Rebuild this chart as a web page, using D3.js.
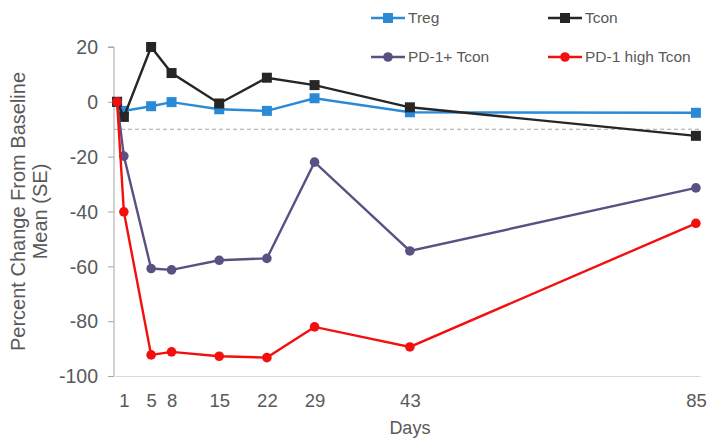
<!DOCTYPE html>
<html>
<head>
<meta charset="utf-8">
<script src="https://cdn.jsdelivr.net/npm/d3@7"></script>
<style>
  body { margin: 0; background: #fff; font-family: "Liberation Sans", Arial, sans-serif; }
  .axis text { fill: #595959; }
</style>
</head>
<body>
<div id="chart"></div>
<script>
// data
const days = [0, 1, 5, 8, 15, 22, 29, 43, 85];
const tickDays = [1, 5, 8, 15, 22, 29, 43, 85];
const yTicks = [20, 0, -20, -40, -60, -80, -100];

const treg = [0, -3.3, -1.6, -0.1, -2.7, -3.3, 1.3, -3.8, -4.0];
const tcon = [0, -5.5, 20, 10.5, -0.6, 8.8, 6.1, -2, -12.4];
const pd1Tcon = [0, -19.8, -60.8, -61.3, -57.8, -57.1, -22, -54.4, -31.4];
const pd1HighTcon = [0, -40.1, -92.3, -91.2, -92.8, -93.3, -82.1, -89.4, -44.3];

const refLine = -10;

const seriesList = [
    {name: "Treg", values: treg, color: "#2a8ad6", shape: "square"},
    {name: "Tcon", values: tcon, color: "#262626", shape: "square"},
    {name: "PD-1+ Tcon", values: pd1Tcon, color: "#5a5182", shape: "circle"},
    {name: "PD-1 high Tcon", values: pd1HighTcon, color: "#f40f0f", shape: "circle"}
];

const width = 710, height = 441;
const margin = {top: 47, right: 10, bottom: 65, left: 114};

const svg = d3.select("#chart").append("svg")
    .attr("width", width)
    .attr("height", height);

// scales
const x = d3.scaleLinear()
    .domain([-0.45, 85.6])
    .range([margin.left, width - margin.right]);

const y = d3.scaleLinear()
    .domain([-100, 20])
    .range([376, 47]);

// reference dashed line
svg.append("line")
    .attr("x1", x(-0.45))
    .attr("x2", x(85.6))
    .attr("y1", y(refLine))
    .attr("y2", y(refLine))
    .attr("stroke", "#a6a6a6")
    .attr("stroke-width", 1.2)
    .attr("stroke-dasharray", "4,3");

// y axis (plain hyphen for negatives, like the original)
const yAxisG = svg.append("g")
    .attr("class", "axis y-axis")
    .attr("transform", `translate(${margin.left},0)`)
    .call(d3.axisLeft(y).tickValues(yTicks).tickSize(6).tickPadding(10).tickFormat(d => String(d)));
yAxisG.selectAll("path, line").attr("stroke", "#a6a6a6");
yAxisG.select(".domain").attr("d", `M-6,${y(20)}H0V${y(-100)}`);
yAxisG.selectAll("text")
    .style("font-size", "19.5px")
    .style("font-family", "Liberation Sans, Arial, sans-serif")
    .attr("dy", "0.35em");

// x axis
const xAxisG = svg.append("g")
    .attr("class", "axis x-axis")
    .attr("transform", `translate(0,${y(-100)})`)
    .call(d3.axisBottom(x).tickValues(tickDays).tickSize(0).tickPadding(18).tickFormat(d => String(d)));
xAxisG.select(".domain").attr("stroke", "#d9d9d9");
xAxisG.selectAll("text")
    .style("font-size", "18.5px")
    .style("font-family", "Liberation Sans, Arial, sans-serif");

// axis titles
svg.append("text")
    .attr("x", x(43))
    .attr("y", 434)
    .attr("text-anchor", "middle")
    .attr("fill", "#595959")
    .style("font-size", "18px")
    .text("Days");

const yTitle = svg.append("text")
    .attr("transform", `translate(25,${(y(20) + y(-100)) / 2}) rotate(-90)`)
    .attr("text-anchor", "middle")
    .attr("fill", "#595959")
    .style("font-size", "20px");
yTitle.append("tspan").attr("x", 0).attr("dy", 0).text("Percent Change From Baseline");
yTitle.append("tspan").attr("x", 0).attr("dy", "1.1em").text("Mean (SE)");

// lines + markers
const line = d3.line()
    .x((d, i) => x(days[i]))
    .y(d => y(d));

const seriesG = svg.selectAll(".series")
    .data(seriesList)
    .join("g")
    .attr("class", "series");

seriesG.append("path")
    .attr("d", d => line(d.values))
    .attr("fill", "none")
    .attr("stroke", d => d.color)
    .attr("stroke-width", 2.4);

seriesG.each(function (s) {
    const g = d3.select(this);
    const pts = s.values.map((v, i) => ({day: days[i], v: v}));
    if (s.shape === "square") {
        g.selectAll("rect")
            .data(pts)
            .join("rect")
            .attr("x", d => x(d.day) - 5)
            .attr("y", d => y(d.v) - 5)
            .attr("width", 10)
            .attr("height", 10)
            .attr("fill", s.color);
    } else {
        g.selectAll("circle")
            .data(pts)
            .join("circle")
            .attr("cx", d => x(d.day))
            .attr("cy", d => y(d.v))
            .attr("r", 4.8)
            .attr("fill", s.color);
    }
});

// legend
const legendPos = [[371, 18], [548, 18], [371, 57], [548, 57]];
const legend = svg.selectAll(".legend-item")
    .data(seriesList)
    .join("g")
    .attr("class", "legend-item")
    .attr("transform", (d, i) => `translate(${legendPos[i][0]},${legendPos[i][1]})`);

legend.append("line")
    .attr("x1", 0).attr("x2", 34)
    .attr("y1", 0).attr("y2", 0)
    .attr("stroke", d => d.color)
    .attr("stroke-width", 2.4);

legend.each(function (s) {
    const g = d3.select(this);
    if (s.shape === "square") {
        g.append("rect").attr("x", 12).attr("y", -5).attr("width", 10).attr("height", 10).attr("fill", s.color);
    } else {
        g.append("circle").attr("cx", 17).attr("cy", 0).attr("r", 4.8).attr("fill", s.color);
    }
});

legend.append("text")
    .attr("x", 37)
    .attr("y", 0)
    .attr("dy", "0.35em")
    .attr("fill", "#595959")
    .style("font-size", "15.5px")
    .text(d => d.name);
</script>
</body>
</html>
